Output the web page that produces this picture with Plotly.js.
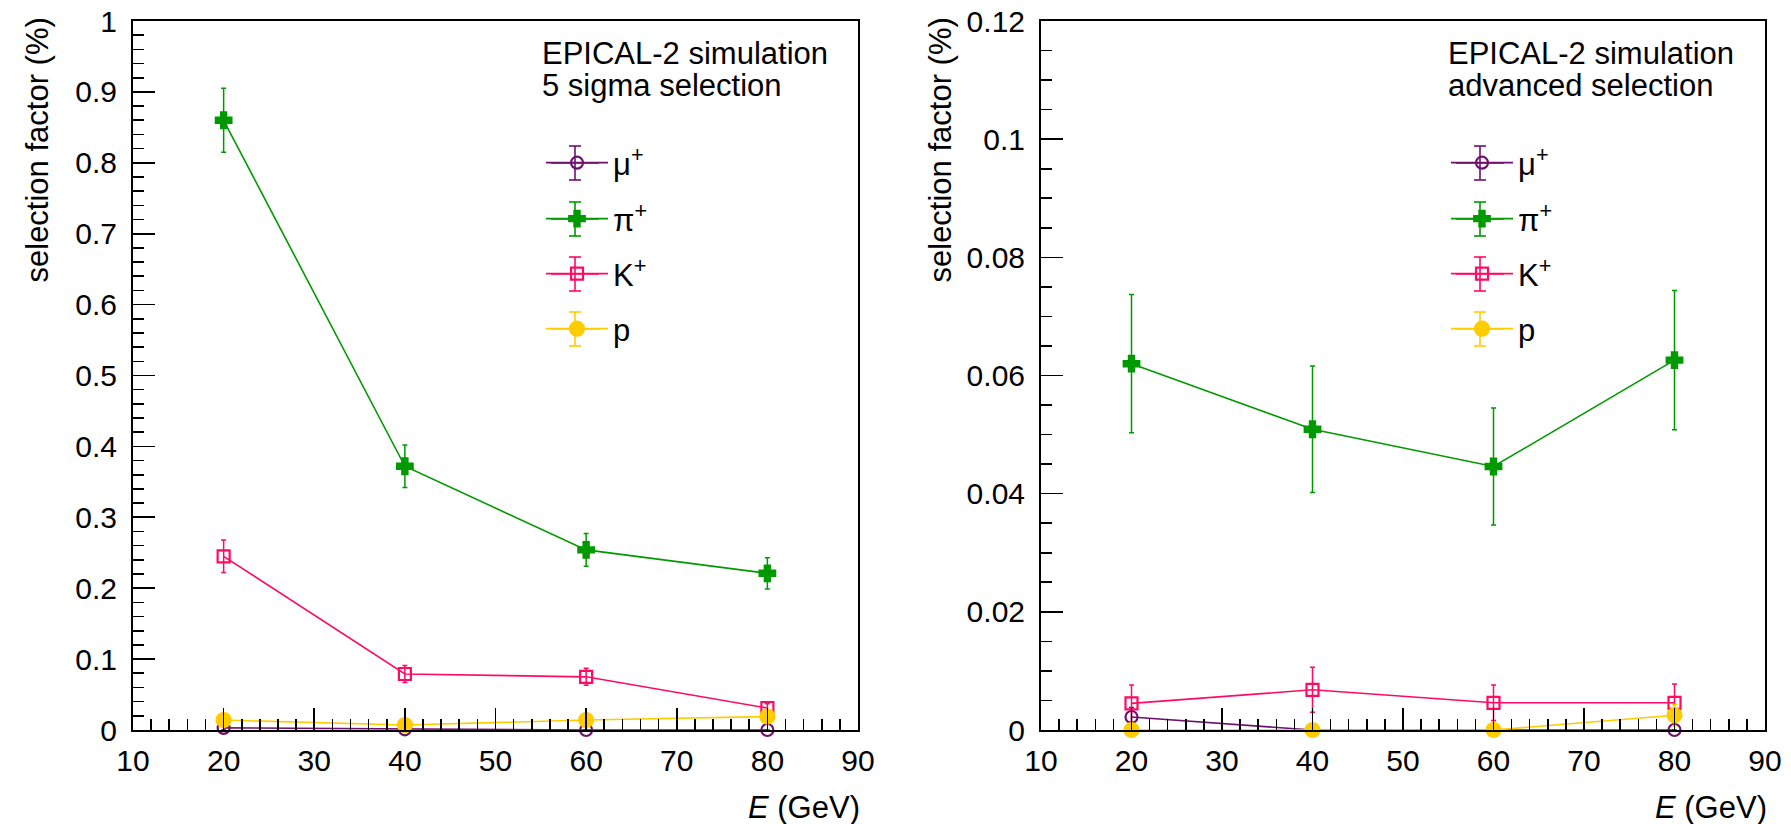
<!DOCTYPE html>
<html>
<head>
<meta charset="utf-8">
<script src="https://cdn.plot.ly/plotly-3.0.1.min.js"></script>
<style>
  html, body { margin: 0; padding: 0; background: #fff; }
  #chart { width: 1791px; height: 824px; }
</style>
</head>
<body>
<div id="chart"></div>
<script>
// Beam energies (GeV)
const energy = [20, 40, 60, 80];

// Particle species and legend labels
const species = ['mu', 'pi', 'K', 'p'];
const labels = ['μ<sup>+</sup>', 'π<sup>+</sup>', 'K<sup>+</sup>', 'p'];

// Selection factor (%) – 5 sigma selection
const sigma5_mu = [0.003, 0.001, 0.0, 0.0];
const sigma5_mu_err = [0.003, 0.002, 0.0, 0.0];
const sigma5_pi = [0.860, 0.372, 0.254, 0.221];
const sigma5_pi_err = [0.045, 0.030, 0.023, 0.022];
const sigma5_K = [0.245, 0.079, 0.075, 0.031];
const sigma5_K_err = [0.023, 0.012, 0.012, 0.006];
const sigma5_p = [0.014, 0.007, 0.014, 0.019];
const sigma5_p_err = [0.004, 0.003, 0.004, 0.004];

// Selection factor (%) – advanced selection
const adv_mu = [0.0022, 0.0, 0.0, 0.0];
const adv_mu_err = [0.0016, 0.0, 0.0, 0.0];
const adv_pi = [0.0620, 0.0509, 0.0446, 0.0626];
const adv_pi_err = [0.0117, 0.0107, 0.0099, 0.0118];
const adv_K = [0.0045, 0.0068, 0.0046, 0.0046];
const adv_K_err = [0.0031, 0.0038, 0.0030, 0.0032];
const adv_p = [0.0, 0.0, 0.0, 0.0025];
const adv_p_err = [0.0, 0.0, 0.0, 0.0018];

const colors = {mu: '#6e116e', pi: '#009900', K: '#ff0a64', p: '#ffcc00'};
const symbols = {mu: 'circle-open', pi: 'cross', K: 'square-open', p: 'circle'};
const msize = {mu: 12, pi: 13, K: 12, p: 14};

const FONT = '"Liberation Sans", Arial, Helvetica, sans-serif';

// Page geometry (pixels)
const W = 1791, H = 824;
const px = v => v / W;
const py = v => 1 - v / H;
const leftFrame = [133, 858];
const rightFrame = [1041, 1765];
const frameTop = 21, frameBottom = 730;

// Legend layout: marker centre x per panel, row centres y
const legendRows = [163, 219, 274, 329];
const panelMarkerX = [575, 1480];
const ITEM_W = 62;

function series(x, y, err, sp, idx, panel) {
  const suffix = panel === 0 ? '' : '2';
  return {
    type: 'scatter', mode: 'lines+markers',
    x: x, y: y, xaxis: 'x' + suffix, yaxis: 'y' + suffix,
    name: labels[idx], legend: 'legend' + (panel * 4 + idx + 1 === 1 ? '' : panel * 4 + idx + 1),
    line: {color: colors[sp], width: 1.6},
    marker: {color: colors[sp], symbol: symbols[sp], size: msize[sp],
             line: {color: colors[sp], width: 2.2}},
    error_y: {type: 'data', array: err, visible: true, color: colors[sp], thickness: 1.5, width: 2.5},
    cliponaxis: false, hoverinfo: 'x+y'
  };
}

const leftSets = [[sigma5_mu, sigma5_mu_err], [sigma5_pi, sigma5_pi_err], [sigma5_K, sigma5_K_err], [sigma5_p, sigma5_p_err]];
const rightSets = [[adv_mu, adv_mu_err], [adv_pi, adv_pi_err], [adv_K, adv_K_err], [adv_p, adv_p_err]];

const traces = [];
species.forEach((sp, i) => traces.push(series(energy, leftSets[i][0], leftSets[i][1], sp, i, 0)));
species.forEach((sp, i) => traces.push(series(energy, rightSets[i][0], rightSets[i][1], sp, i, 1)));

function xAxis(frame, anchor) {
  return {
    domain: [px(frame[0]), px(frame[1])], anchor: anchor, range: [10, 90], dtick: 10, tick0: 10,
    showgrid: false, zeroline: false, showline: true, mirror: true,
    linecolor: '#000', linewidth: 2,
    ticks: 'inside', ticklen: 22, tickwidth: 1.6, tickcolor: '#000',
    minor: {dtick: 2, ticks: 'inside', ticklen: 11, tickwidth: 1.6, tickcolor: '#000', showgrid: false},
    tickfont: {family: FONT, size: 30, color: '#000'}, ticklabelstandoff: 3
  };
}
function yAxis(anchor, range, dtick, minor) {
  return {
    domain: [py(frameBottom), py(frameTop)], anchor: anchor, range: range, dtick: dtick, tick0: 0,
    showgrid: false, zeroline: false, showline: true, mirror: true,
    linecolor: '#000', linewidth: 2,
    ticks: 'inside', ticklen: 22, tickwidth: 1.6, tickcolor: '#000',
    minor: {dtick: minor, ticks: 'inside', ticklen: 11, tickwidth: 1.6, tickcolor: '#000', showgrid: false},
    tickfont: {family: FONT, size: 30, color: '#000'}, ticklabelstandoff: 8
  };
}

const textFont = {family: FONT, size: 31, color: '#000'};

const layout = {
  width: W, height: H,
  margin: {l: 0, r: 0, t: 0, b: 0},
  paper_bgcolor: '#fff', plot_bgcolor: '#fff',
  showlegend: true,
  xaxis: xAxis(leftFrame, 'y'),
  yaxis: yAxis('x', [0, 1], 0.1, 0.02),
  xaxis2: xAxis(rightFrame, 'y2'),
  yaxis2: yAxis('x2', [0, 0.12], 0.02, 0.005),
  shapes: [],
  annotations: [
    // panel captions, one line each
    {xref: 'paper', yref: 'paper', x: px(540), y: py(34), xanchor: 'left', yanchor: 'top',
     text: 'EPICAL-2 simulation', showarrow: false, font: textFont},
    {xref: 'paper', yref: 'paper', x: px(540), y: py(66), xanchor: 'left', yanchor: 'top',
     text: '5 sigma selection', showarrow: false, font: textFont},
    {xref: 'paper', yref: 'paper', x: px(1446), y: py(34), xanchor: 'left', yanchor: 'top',
     text: 'EPICAL-2 simulation', showarrow: false, font: textFont},
    {xref: 'paper', yref: 'paper', x: px(1446), y: py(66), xanchor: 'left', yanchor: 'top',
     text: 'advanced selection', showarrow: false, font: textFont},
    // x-axis titles (right aligned)
    {xref: 'paper', yref: 'paper', x: px(862), y: py(807), xanchor: 'right', yanchor: 'middle',
     text: '<i>E</i> (GeV)', showarrow: false, font: textFont},
    {xref: 'paper', yref: 'paper', x: px(1769), y: py(807), xanchor: 'right', yanchor: 'middle',
     text: '<i>E</i> (GeV)', showarrow: false, font: textFont},
    // y-axis titles (top aligned)
    {xref: 'paper', yref: 'paper', x: px(37), y: py(16), xanchor: 'center', yanchor: 'top',
     text: 'selection factor (%)', textangle: -90, showarrow: false, font: textFont},
    {xref: 'paper', yref: 'paper', x: px(940), y: py(16), xanchor: 'center', yanchor: 'top',
     text: 'selection factor (%)', textangle: -90, showarrow: false, font: textFont}
  ]
};

// One legend box per entry, placed on its row; error-bar glyphs drawn beside each marker
[0, 1].forEach(panel => {
  const cx = panelMarkerX[panel];
  species.forEach((sp, i) => {
    const n = panel * 4 + i + 1;
    const key = n === 1 ? 'legend' : 'legend' + n;
    const cy = legendRows[i];
    layout[key] = {
      font: textFont, bgcolor: 'rgba(0,0,0,0)', borderwidth: 0,
      x: px(cx - ITEM_W / 2 - 3), y: py(cy), xanchor: 'left', yanchor: 'middle',
      itemwidth: ITEM_W
    };
    const ln = {color: colors[sp], width: 1.6};
    const seg = (x0, y0, x1, y1) => ({type: 'line', xref: 'paper', yref: 'paper',
      x0: px(x0), y0: py(y0), x1: px(x1), y1: py(y1), line: ln, layer: 'below'});
    layout.shapes.push(seg(cx, cy - 17, cx, cy + 17));
    layout.shapes.push(seg(cx - 6, cy - 17, cx + 6, cy - 17));
    layout.shapes.push(seg(cx - 6, cy + 17, cx + 6, cy + 17));
    layout.shapes.push(seg(cx - 24, cy, cx + 24, cy));
  });
});

Plotly.newPlot('chart', traces, layout, {staticPlot: true});
</script>
</body>
</html>
